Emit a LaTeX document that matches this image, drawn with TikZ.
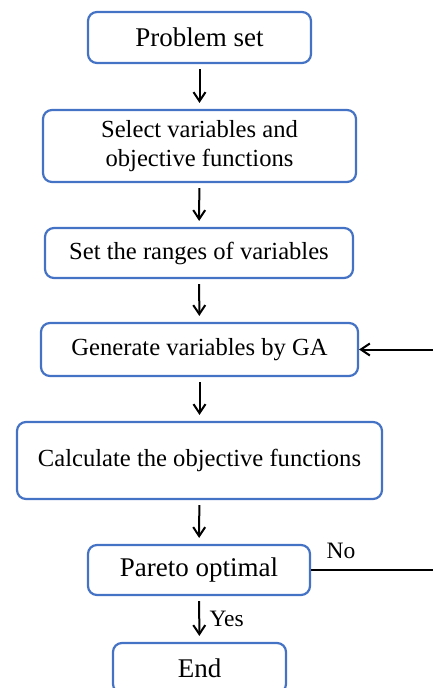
\documentclass[tikz,border=0pt]{standalone}
\usepackage{fontspec}
\setmainfont{Liberation Serif}
\usetikzlibrary{arrows.meta}
\usetikzlibrary{positioning}

\definecolor{boxblue}{RGB}{68,114,196}

\tikzset{
	stagebox/.style={draw=boxblue, line width=2.2pt, rounded corners=9pt,
		inner sep=0pt, align=center, font=\fontsize{24.6}{29}\selectfont},
	bigbox/.style={stagebox, font=\fontsize{27}{32}\selectfont},
	flow/.style={-{Straight Barb[length=9pt,width=12pt]}, line width=2pt,
		shorten <=5pt, shorten >=6pt},
	loopline/.style={-{Straight Barb[length=9pt,width=12pt]}, line width=2pt},
	branch/.style={font=\fontsize{23.5}{28}\selectfont}
}

\begin{document}
\begin{tikzpicture}[x=1pt, y=-1pt]
				\useasboundingbox (0, 0) rectangle (432, 688);

				\node[bigbox, minimum width=223pt, minimum height=51pt] (problem) at (199.5, 37.5) {Problem set};
				\node[stagebox, minimum width=313pt, minimum height=72pt] (select) at (199.5, 146) {Select variables and\\objective functions};
				\node[stagebox, minimum width=308pt, minimum height=50pt] (ranges) at (199, 253) {Set the ranges of variables};
				\node[stagebox, minimum width=317pt, minimum height=53pt] (generate) at (199.5, 349.5) {Generate variables by GA};
				\node[stagebox, minimum width=365pt, minimum height=77pt] (calc) at (199.5, 460.5) {Calculate the objective functions};
				\node[bigbox, minimum width=222pt, minimum height=50pt] (pareto) at (199, 570) {Pareto optimal};
				\node[bigbox, minimum width=173pt, minimum height=50pt] (end) at (199.5, 668) {End};

				\draw[flow] (problem) -- (select);
				\draw[flow] (select) -- (ranges);
				\draw[flow] (ranges) -- (generate);
				\draw[flow] (generate) -- (calc);
				\draw[flow] (calc) -- (pareto);
				\draw[flow] (pareto) -- node[branch, right=6pt] (yes) {Yes} (end);

				% feedback loop runs just past the right edge
				\coordinate (edgelow) at (435, 570);
				\coordinate (edgehigh) at (435, 349.5);
				\draw[loopline] (pareto.east) -- (edgelow) -- (edgehigh) -- (generate.east);
				\node[branch] (no) at (341, 551) {No};
			\end{tikzpicture}
\end{document}
